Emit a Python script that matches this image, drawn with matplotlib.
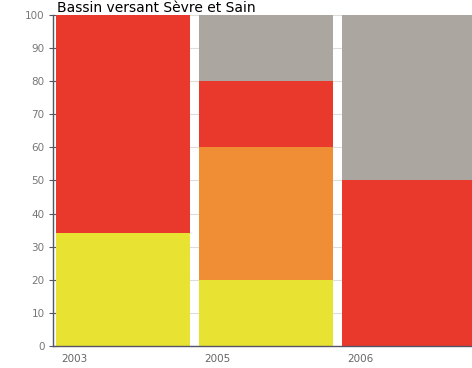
import matplotlib
matplotlib.use("Agg")
import matplotlib.pyplot as plt
import numpy as np

years = ["2003", "2005", "2006"]
# stacked shares (%) per year, bottom to top
yellow = [34, 20, 0]
orange = [0, 40, 0]
red = [66, 20, 50]
gray = [0, 20, 50]

colors = {
    "yellow": "#e8e232",
    "orange": "#f08e36",
    "red": "#e8392c",
    "gray": "#aca6a1",
}

W, H = 472, 368
fig = plt.figure(figsize=(W / 100, H / 100), dpi=100)
ax = fig.add_axes([53 / W, (H - 346) / H, 1 - 53 / W, (346 - 15) / H])

x = np.arange(len(years))
width = 0.937
bottom = np.zeros(len(years))
for name, vals in [("yellow", yellow), ("orange", orange), ("red", red), ("gray", gray)]:
    ax.bar(x, vals, width=width, bottom=bottom, align="edge",
           color=colors[name], linewidth=0, zorder=2)
    bottom += np.array(vals)

ax.set_ylim(0, 100)
ax.set_xlim(-0.021, (W - 53) / 143 - 0.021)
ax.set_yticks(range(0, 101, 10))
ax.yaxis.grid(True, color="#dddddd", linewidth=0.8, zorder=0)
ax.set_axisbelow(True)

ax.set_xticks(x + 0.04)
ax.set_xticklabels(years, ha="left")
ax.tick_params(axis="x", length=0, pad=6, labelsize=7.5, labelcolor="#666666")
ax.tick_params(axis="y", direction="inout", length=6, width=0.8, color="#555566",
               labelsize=7.5, labelcolor="#777777", pad=3)

for s in ["top", "right"]:
    ax.spines[s].set_visible(False)
for s in ["left", "bottom"]:
    ax.spines[s].set_color("#555566")
    ax.spines[s].set_linewidth(1.0)

fig.text(57 / W, 1 - 12 / H, "Bassin versant Sèvre et Sain", fontsize=10,
         color="black", va="baseline", ha="left")

fig.savefig("out.png", dpi=100)
